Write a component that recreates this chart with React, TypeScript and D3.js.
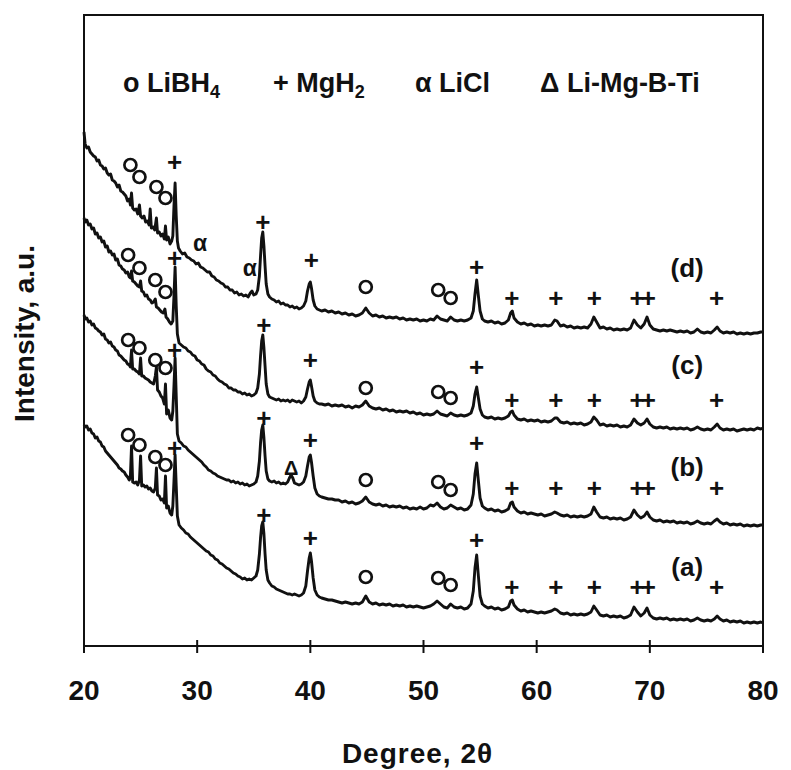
import React from 'react';
import * as d3 from 'd3';

type Pt = [number, number];

// XRD traces, [2θ, intensity a.u.] (stacked, (a) at bottom)
const traceA: Pt[] = [
  [20.0,221],[20.1,219],[20.25,220],[20.4,216],[20.55,217],[20.7,213],[20.85,212],[21.0,208],[21.15,209],[21.3,205],[21.45,204],[21.6,200],[21.75,199],[21.9,195],[22.05,193],[22.2,191],[22.35,189],[22.5,187],[22.65,185],[22.8,183],[22.95,181],[23.1,178],[23.25,177],[23.4,175],[23.55,174],[23.7,171],[23.85,169],[24.0,166],[24.1,170],[24.2,200],[24.3,164],[24.45,163],[24.6,164],[24.75,161],[24.9,166],[25.0,190],[25.1,160],[25.25,161],[25.4,159],[25.55,160],[25.7,157],[25.85,158],[26.0,155],[26.15,154],[26.3,158],[26.4,178],[26.5,151],[26.65,150],[26.8,146],[26.95,147],[27.1,143],[27.2,170],[27.3,138],[27.45,140],[27.6,133],[27.75,131],[27.85,140],[27.95,165],[28.05,191],[28.15,160],[28.25,130],[28.4,121],[28.6,118],[28.8,116],[29.0,113],[29.2,112],[29.4,109],[29.6,107],[29.8,105],[30.0,103],[30.2,101],[30.4,99],[30.6,97],[30.8,95],[31.0,94],[31.2,91],[31.4,90],[31.6,87],[31.8,86],[32.0,83],[32.2,82],[32.4,80],[32.6,78],[32.8,77],[33.0,75],[33.2,73],[33.4,72],[33.6,70],[33.8,69],[34.0,67],[34.2,68],[34.4,66],[34.6,67],[34.8,66],[35.0,68],[35.2,70],[35.35,76],[35.5,92],[35.6,108],[35.7,120],[35.8,124],[35.9,112],[36.0,92],[36.1,76],[36.25,66],[36.4,63],[36.6,60],[36.8,59],[37.0,57],[37.2,56],[37.4,55],[37.6,54],[37.8,53],[38.0,52],[38.2,52],[38.4,51],[38.6,52],[38.8,51],[39.0,50],[39.2,51],[39.4,53],[39.6,60],[39.75,75],[39.9,88],[40.0,93],[40.1,85],[40.25,68],[40.4,56],[40.6,51],[40.8,49],[41.0,48],[41.3,47],[41.6,46],[41.9,46],[42.2,45],[42.5,44],[42.8,43],[43.1,44],[43.4,43],[43.7,42],[44.0,43],[44.3,42],[44.6,44],[44.9,50],[45.2,44],[45.5,42],[45.8,43],[46.1,41],[46.4,42],[46.7,41],[47.0,42],[47.3,40],[47.6,41],[47.9,40],[48.2,41],[48.5,39],[48.8,40],[49.1,39],[49.4,40],[49.7,39],[50.0,38],[50.3,39],[50.6,40],[50.9,42],[51.2,45],[51.5,42],[51.8,39],[52.1,38],[52.4,42],[52.7,39],[53.0,38],[53.3,39],[53.6,37],[53.9,38],[54.2,42],[54.4,55],[54.55,78],[54.7,91],[54.85,70],[55.0,50],[55.2,42],[55.4,40],[55.7,38],[56.0,39],[56.3,37],[56.6,38],[56.9,36],[57.2,37],[57.5,39],[57.7,45],[57.85,46],[58.0,41],[58.3,37],[58.6,35],[58.9,36],[59.2,34],[59.5,35],[59.8,34],[60.1,33],[60.4,34],[60.7,33],[61.0,34],[61.3,35],[61.6,37],[61.8,36],[62.1,33],[62.4,32],[62.7,33],[63.0,31],[63.3,32],[63.6,31],[63.9,32],[64.2,31],[64.5,32],[64.8,34],[65.05,40],[65.3,36],[65.6,31],[65.9,30],[66.2,31],[66.5,29],[66.8,30],[67.1,29],[67.4,30],[67.7,28],[68.0,29],[68.3,31],[68.6,39],[68.9,34],[69.2,30],[69.5,33],[69.75,38],[70.0,31],[70.3,28],[70.6,27],[70.9,28],[71.2,27],[71.5,28],[71.8,26],[72.1,27],[72.4,26],[72.7,27],[73.0,26],[73.3,27],[73.6,25],[73.9,26],[74.2,28],[74.5,26],[74.8,25],[75.1,26],[75.4,25],[75.7,27],[75.95,30],[76.2,27],[76.5,25],[76.8,26],[77.1,24],[77.4,25],[77.7,24],[78.0,25],[78.3,23],[78.6,24],[78.9,23],[79.2,24],[79.5,23],[79.8,24],[80.0,23],
];

const traceB: Pt[] = [
  [20.0,331],[20.1,327],[20.25,328],[20.4,324],[20.55,325],[20.7,321],[20.85,322],[21.0,318],[21.15,317],[21.3,315],[21.45,314],[21.6,311],[21.75,312],[21.9,307],[22.05,306],[22.2,303],[22.35,304],[22.5,300],[22.65,299],[22.8,296],[22.95,295],[23.1,291],[23.25,290],[23.4,288],[23.55,286],[23.7,285],[23.85,282],[24.0,281],[24.1,279],[24.2,296],[24.3,277],[24.45,277],[24.6,275],[24.75,274],[24.9,272],[25.0,288],[25.1,270],[25.25,270],[25.4,268],[25.55,267],[25.7,266],[25.85,264],[26.0,263],[26.15,262],[26.3,270],[26.4,279],[26.5,256],[26.65,254],[26.8,250],[26.95,248],[27.1,242],[27.2,262],[27.3,232],[27.45,236],[27.6,228],[27.75,226],[27.85,235],[27.95,260],[28.05,288],[28.15,250],[28.25,212],[28.4,205],[28.6,203],[28.8,200],[29.0,199],[29.2,196],[29.4,194],[29.6,192],[29.8,190],[30.0,188],[30.2,186],[30.4,184],[30.6,181],[30.8,179],[31.0,176],[31.2,175],[31.4,173],[31.6,172],[31.8,170],[32.0,169],[32.2,168],[32.4,167],[32.6,166],[32.8,166],[33.0,164],[33.2,165],[33.4,163],[33.6,164],[33.8,162],[34.0,163],[34.2,161],[34.4,162],[34.6,160],[34.8,161],[35.0,162],[35.2,164],[35.35,170],[35.5,185],[35.6,203],[35.7,216],[35.8,221],[35.9,208],[36.0,190],[36.1,175],[36.25,167],[36.4,165],[36.6,164],[36.8,165],[37.0,163],[37.2,164],[37.4,162],[37.6,163],[37.8,162],[38.0,164],[38.15,168],[38.3,171],[38.45,168],[38.6,163],[38.8,162],[39.0,161],[39.2,162],[39.4,164],[39.6,170],[39.75,180],[39.9,189],[40.0,191],[40.1,184],[40.25,170],[40.4,158],[40.6,152],[40.8,150],[41.0,149],[41.3,148],[41.6,147],[41.9,147],[42.2,146],[42.5,146],[42.8,144],[43.1,145],[43.4,143],[43.7,144],[44.0,142],[44.3,143],[44.6,145],[44.9,149],[45.2,144],[45.5,142],[45.8,141],[46.1,142],[46.4,140],[46.7,141],[47.0,139],[47.3,140],[47.6,139],[47.9,140],[48.2,138],[48.5,139],[48.8,137],[49.1,138],[49.4,137],[49.7,139],[50.0,137],[50.3,138],[50.6,141],[50.9,140],[51.2,143],[51.5,139],[51.8,137],[52.1,138],[52.4,141],[52.7,139],[53.0,137],[53.3,138],[53.6,136],[53.9,137],[54.2,141],[54.4,152],[54.55,172],[54.7,183],[54.85,165],[55.0,148],[55.2,140],[55.4,138],[55.7,136],[56.0,137],[56.3,135],[56.6,136],[56.9,134],[57.2,135],[57.5,137],[57.7,143],[57.85,144],[58.0,139],[58.3,135],[58.6,133],[58.9,134],[59.2,132],[59.5,133],[59.8,132],[60.1,131],[60.4,132],[60.7,130],[61.0,131],[61.3,132],[61.6,134],[61.8,133],[62.1,131],[62.4,130],[62.7,131],[63.0,129],[63.3,130],[63.6,129],[63.9,130],[64.2,129],[64.5,130],[64.8,132],[65.05,139],[65.3,134],[65.6,129],[65.9,128],[66.2,129],[66.5,127],[66.8,128],[67.1,127],[67.4,128],[67.7,126],[68.0,127],[68.3,129],[68.6,136],[68.9,131],[69.2,128],[69.5,130],[69.75,134],[70.0,129],[70.3,126],[70.6,125],[70.9,126],[71.2,124],[71.5,125],[71.8,124],[72.1,125],[72.4,123],[72.7,124],[73.0,123],[73.3,124],[73.6,122],[73.9,123],[74.2,125],[74.5,123],[74.8,122],[75.1,123],[75.4,122],[75.7,125],[75.95,127],[76.2,124],[76.5,122],[76.8,123],[77.1,121],[77.4,122],[77.7,121],[78.0,122],[78.3,120],[78.6,121],[78.9,120],[79.2,121],[79.5,120],[79.8,121],[80.0,121],
];

const traceC: Pt[] = [
  [20.0,428],[20.1,424],[20.25,426],[20.4,421],[20.55,422],[20.7,417],[20.85,418],[21.0,412],[21.15,413],[21.3,408],[21.45,409],[21.6,404],[21.75,405],[21.9,399],[22.05,400],[22.2,394],[22.35,395],[22.5,391],[22.65,392],[22.8,386],[22.95,387],[23.1,381],[23.25,380],[23.4,377],[23.55,376],[23.7,373],[23.85,374],[24.0,369],[24.1,368],[24.2,375],[24.3,365],[24.45,364],[24.6,362],[24.75,360],[24.9,359],[25.0,365],[25.1,355],[25.25,354],[25.4,350],[25.55,351],[25.7,347],[25.85,346],[26.0,343],[26.15,344],[26.3,347],[26.4,339],[26.55,338],[26.7,336],[26.85,334],[27.0,333],[27.15,337],[27.25,329],[27.4,327],[27.55,324],[27.7,322],[27.85,325],[27.95,350],[28.05,379],[28.15,340],[28.25,312],[28.4,303],[28.6,301],[28.8,299],[29.0,298],[29.2,295],[29.4,294],[29.6,291],[29.8,290],[30.0,286],[30.2,285],[30.4,282],[30.6,281],[30.8,277],[31.0,275],[31.2,274],[31.4,271],[31.6,270],[31.8,267],[32.0,265],[32.2,264],[32.4,262],[32.6,261],[32.8,258],[33.0,258],[33.2,256],[33.4,256],[33.6,254],[33.8,254],[34.0,252],[34.2,253],[34.4,251],[34.6,252],[34.8,250],[35.0,251],[35.2,253],[35.35,258],[35.5,272],[35.6,290],[35.7,305],[35.8,311],[35.9,298],[36.0,280],[36.1,262],[36.25,252],[36.4,249],[36.6,248],[36.8,247],[37.0,246],[37.2,247],[37.4,245],[37.6,246],[37.8,245],[38.0,246],[38.2,244],[38.4,246],[38.6,245],[38.8,244],[39.0,245],[39.2,243],[39.4,245],[39.6,249],[39.75,257],[39.9,264],[40.0,266],[40.1,260],[40.25,250],[40.4,245],[40.6,243],[40.8,242],[41.0,242],[41.3,241],[41.6,242],[41.9,240],[42.2,241],[42.5,240],[42.8,241],[43.1,239],[43.4,240],[43.7,238],[44.0,240],[44.3,239],[44.6,241],[44.9,245],[45.2,240],[45.5,238],[45.8,237],[46.1,238],[46.4,236],[46.7,237],[47.0,235],[47.3,236],[47.6,234],[47.9,235],[48.2,234],[48.5,235],[48.8,233],[49.1,234],[49.4,232],[49.7,233],[50.0,231],[50.3,232],[50.6,231],[50.9,232],[51.2,235],[51.5,232],[51.8,231],[52.1,230],[52.4,233],[52.7,231],[53.0,230],[53.3,231],[53.6,230],[53.9,231],[54.2,233],[54.4,240],[54.55,252],[54.7,259],[54.85,248],[55.0,237],[55.2,231],[55.4,229],[55.7,228],[56.0,229],[56.3,227],[56.6,228],[56.9,227],[57.2,228],[57.5,230],[57.7,234],[57.85,235],[58.0,231],[58.3,227],[58.6,226],[58.9,227],[59.2,225],[59.5,226],[59.8,225],[60.1,226],[60.4,224],[60.7,225],[61.0,224],[61.3,225],[61.6,228],[61.8,228],[62.1,224],[62.4,223],[62.7,224],[63.0,222],[63.3,223],[63.6,222],[63.9,223],[64.2,221],[64.5,222],[64.8,224],[65.05,229],[65.3,226],[65.6,221],[65.9,222],[66.2,220],[66.5,221],[66.8,220],[67.1,221],[67.4,219],[67.7,220],[68.0,219],[68.3,221],[68.6,227],[68.9,223],[69.2,221],[69.5,223],[69.75,227],[70.0,222],[70.3,219],[70.6,218],[70.9,219],[71.2,218],[71.5,219],[71.8,217],[72.1,218],[72.4,217],[72.7,218],[73.0,217],[73.3,218],[73.6,216],[73.9,217],[74.2,219],[74.5,217],[74.8,216],[75.1,217],[75.4,216],[75.7,219],[75.95,222],[76.2,218],[76.5,216],[76.8,217],[77.1,216],[77.4,217],[77.7,215],[78.0,216],[78.3,217],[78.6,216],[78.9,217],[79.2,216],[79.5,218],[79.8,217],[80.0,218],
];

const traceD: Pt[] = [
  [20.0,514],[20.1,502],[20.25,498],[20.4,499],[20.55,494],[20.7,492],[20.85,490],[21.0,489],[21.15,485],[21.3,486],[21.45,481],[21.6,480],[21.75,477],[21.9,478],[22.05,473],[22.2,471],[22.35,472],[22.5,466],[22.65,465],[22.8,463],[22.95,459],[23.1,461],[23.25,455],[23.4,454],[23.55,452],[23.7,450],[23.85,445],[24.0,447],[24.1,441],[24.2,453],[24.3,438],[24.45,436],[24.6,437],[24.75,432],[24.9,441],[25.0,430],[25.15,428],[25.3,430],[25.45,424],[25.6,425],[25.75,421],[25.85,437],[25.95,418],[26.1,419],[26.25,416],[26.4,428],[26.5,413],[26.65,414],[26.8,410],[26.95,412],[27.1,407],[27.2,420],[27.3,406],[27.45,409],[27.6,402],[27.75,405],[27.85,410],[27.95,440],[28.05,463],[28.15,430],[28.25,405],[28.35,398],[28.5,395],[28.7,392],[28.9,393],[29.1,389],[29.3,388],[29.5,386],[29.7,385],[29.9,382],[30.1,383],[30.3,379],[30.5,378],[30.7,376],[30.9,374],[31.1,374],[31.3,370],[31.5,369],[31.7,366],[31.9,365],[32.1,363],[32.3,362],[32.5,359],[32.7,359],[32.9,356],[33.1,356],[33.3,353],[33.5,354],[33.7,351],[33.9,352],[34.1,350],[34.3,351],[34.5,349],[34.7,353],[34.85,355],[35.0,351],[35.2,352],[35.35,356],[35.5,370],[35.6,390],[35.7,408],[35.8,414],[35.9,400],[36.0,380],[36.1,362],[36.25,352],[36.4,349],[36.6,347],[36.8,346],[37.0,344],[37.2,345],[37.4,342],[37.6,343],[37.8,341],[38.0,341],[38.2,339],[38.4,340],[38.6,338],[38.8,339],[39.0,337],[39.2,338],[39.4,340],[39.6,345],[39.75,355],[39.9,362],[40.0,364],[40.1,358],[40.25,346],[40.4,340],[40.6,337],[40.8,336],[41.0,335],[41.3,336],[41.6,334],[41.9,335],[42.2,333],[42.5,334],[42.8,332],[43.1,333],[43.4,331],[43.7,332],[44.0,330],[44.3,331],[44.6,333],[44.9,338],[45.2,333],[45.5,330],[45.8,331],[46.1,329],[46.4,330],[46.7,328],[47.0,329],[47.3,328],[47.6,329],[47.9,327],[48.2,328],[48.5,326],[48.8,327],[49.1,326],[49.4,327],[49.7,325],[50.0,326],[50.3,325],[50.6,327],[50.9,326],[51.2,330],[51.5,327],[51.8,326],[52.1,325],[52.4,329],[52.7,326],[53.0,325],[53.3,326],[53.6,325],[53.9,326],[54.2,328],[54.4,335],[54.55,352],[54.7,366],[54.85,350],[55.0,335],[55.2,327],[55.4,325],[55.7,324],[56.0,325],[56.3,323],[56.6,324],[56.9,322],[57.2,323],[57.5,326],[57.7,333],[57.85,335],[58.0,328],[58.3,324],[58.6,322],[58.9,323],[59.2,321],[59.5,322],[59.8,320],[60.1,321],[60.4,320],[60.7,321],[61.0,320],[61.3,321],[61.6,326],[61.8,325],[62.1,320],[62.4,321],[62.7,319],[63.0,320],[63.3,318],[63.6,319],[63.9,318],[64.2,319],[64.5,318],[64.8,322],[65.05,329],[65.3,324],[65.6,318],[65.9,319],[66.2,317],[66.5,318],[66.8,316],[67.1,317],[67.4,316],[67.7,317],[68.0,316],[68.3,318],[68.6,326],[68.9,321],[69.2,318],[69.5,322],[69.75,329],[70.0,321],[70.3,317],[70.6,316],[70.9,315],[71.2,316],[71.5,315],[71.8,316],[72.1,315],[72.4,314],[72.7,315],[73.0,314],[73.3,315],[73.6,313],[73.9,314],[74.2,317],[74.5,314],[74.8,313],[75.1,314],[75.4,313],[75.7,316],[75.95,319],[76.2,315],[76.5,313],[76.8,314],[77.1,313],[77.4,314],[77.7,312],[78.0,313],[78.3,312],[78.6,313],[78.9,312],[79.2,313],[79.5,313],[79.8,314],[80.0,314],
];

const traces = [traceA, traceB, traceC, traceD];
const traceNames = ['(a)', '(b)', '(c)', '(d)'];
const traceNameLevels = [79, 179, 281, 378];
const traceNameTheta = 73.3;

// phase markers, [2θ, intensity]
const libh4Marks: Pt[] = [
  [23.9,211],[24.9,201],[26.3,189],[27.2,181],[44.9,69],[51.3,68],[52.4,61],
  [23.9,306],[24.9,298],[26.3,286],[27.2,278],[44.9,166],[51.3,164],[52.4,156],
  [23.9,391],[24.9,378],[26.3,366],[27.2,354],[44.9,258],[51.3,254],[52.4,248],
  [24.1,481],[24.9,469],[26.4,459],[27.2,448],[44.9,359],[51.3,356],[52.4,348],
];
const mgh2Marks: Pt[] = [
  [28.0,198],[35.9,131],[40.0,108],[54.7,106],[57.8,59],[61.7,59],[65.1,59],[75.9,59],
  [28.0,296],[35.9,228],[40.0,206],[54.7,203],[57.8,158],[61.7,158],[65.1,158],[75.9,158],
  [28.0,388],[35.9,321],[40.0,286],[54.7,279],[57.8,246],[61.7,246],[65.1,246],[75.9,246],
  [28.0,484],[35.8,424],[40.1,386],[54.7,379],[57.8,348],[61.7,348],[65.1,348],[75.9,348],
];
// the close MgH2 doublet at 68.7° / 69.7°, written as one "++" label
const mgh2Doublet: Pt[] = [[69.2,59],[69.2,158],[69.2,246],[69.2,348]];
const liclMarks: Pt[] = [[30.25,401],[34.65,376]];
const deltaMarks: Pt[] = [[38.3,178]];

const xTicks = [20, 30, 40, 50, 60, 70, 80];

const W = 791;
const H = 770;
const left = 84, right = 763, top = 15, bottom = 646;
const font = '"Liberation Sans", Arial, sans-serif';
const ink = '#111';

export default function App() {
  const x = d3.scaleLinear().domain([20, 80]).range([left, right]);
  const y = d3.scaleLinear().domain([0, 631]).range([bottom, top]);
  const line = d3.line<Pt>().x(d => x(d[0])).y(d => y(d[1]));

  const glyph = (marks: Pt[], sym: string, size: number, shift: number, key: string, ls = 0) =>
    marks.map((d, i) => (
      <text key={key + i} x={x(d[0])} y={y(d[1]) + shift} textAnchor="middle"
        fontSize={size} fontWeight="bold" fontFamily={font} fill={ink}
        letterSpacing={ls}>{sym}</text>
    ));

  return (
    <svg width={W} height={H} style={{ position: 'absolute', left: 0, top: 0, background: '#fff' }}>
      <rect x={0} y={0} width={W} height={H} fill="#fff" />

      {traces.map((t, i) => (
        <path key={i} d={line(t) || ''} fill="none" stroke={ink} strokeWidth={2.9}
          strokeLinejoin="round" />
      ))}

      {/* LiBH4 rings */}
      {libh4Marks.map((d, i) => (
        <circle key={'o' + i} cx={x(d[0])} cy={y(d[1])} r={6} fill="none"
          stroke={ink} strokeWidth={2.7} />
      ))}
      {glyph(mgh2Marks, '+', 26, 9, 'p')}
      {glyph(mgh2Doublet, '++', 26, 9, 'pp', -4)}
      {glyph(liclMarks, 'α', 23, 6, 'a')}
      {glyph(deltaMarks, 'Δ', 20, 7, 'd')}

      {traceNames.map((n, i) => (
        <text key={n} x={x(traceNameTheta)} y={y(traceNameLevels[i]) + 9} textAnchor="middle"
          fontSize={26} fontWeight="bold" fontFamily={font} fill={ink}>{n}</text>
      ))}

      <rect x={left} y={top} width={right - left} height={bottom - top} fill="none"
        stroke={ink} strokeWidth={2} />

      {xTicks.map(t => (
        <g key={t}>
          <line x1={x(t)} x2={x(t)} y1={bottom - 6} y2={bottom + 7} stroke={ink} strokeWidth={2} />
          <text x={x(t)} y={bottom + 54} textAnchor="middle" fontSize={28} fontWeight="bold"
            fontFamily={font} fill={ink}>{t}</text>
        </g>
      ))}

      <g fontFamily={font} fontWeight="bold" fontSize={27} fill={ink}>
        <text x={123} y={92}>o LiBH<tspan fontSize={18} dy={6}>4</tspan></text>
        <text x={273} y={92}>+ MgH<tspan fontSize={18} dy={6}>2</tspan></text>
        <text x={415} y={92}>α LiCl</text>
        <text x={540} y={92}>Δ Li-Mg-B-Ti</text>
      </g>

      <text x={(left + right) / 2 - 6} y={763} textAnchor="middle" fontSize={28} fontWeight="bold"
        fontFamily={font} letterSpacing={1} fill={ink}>Degree, 2θ</text>
      <text transform={`translate(34,${(top + bottom) / 2 + 3}) rotate(-90)`} textAnchor="middle"
        fontSize={28} fontWeight="bold" fontFamily={font} fill={ink}>Intensity, a.u.</text>
    </svg>
  );
}
